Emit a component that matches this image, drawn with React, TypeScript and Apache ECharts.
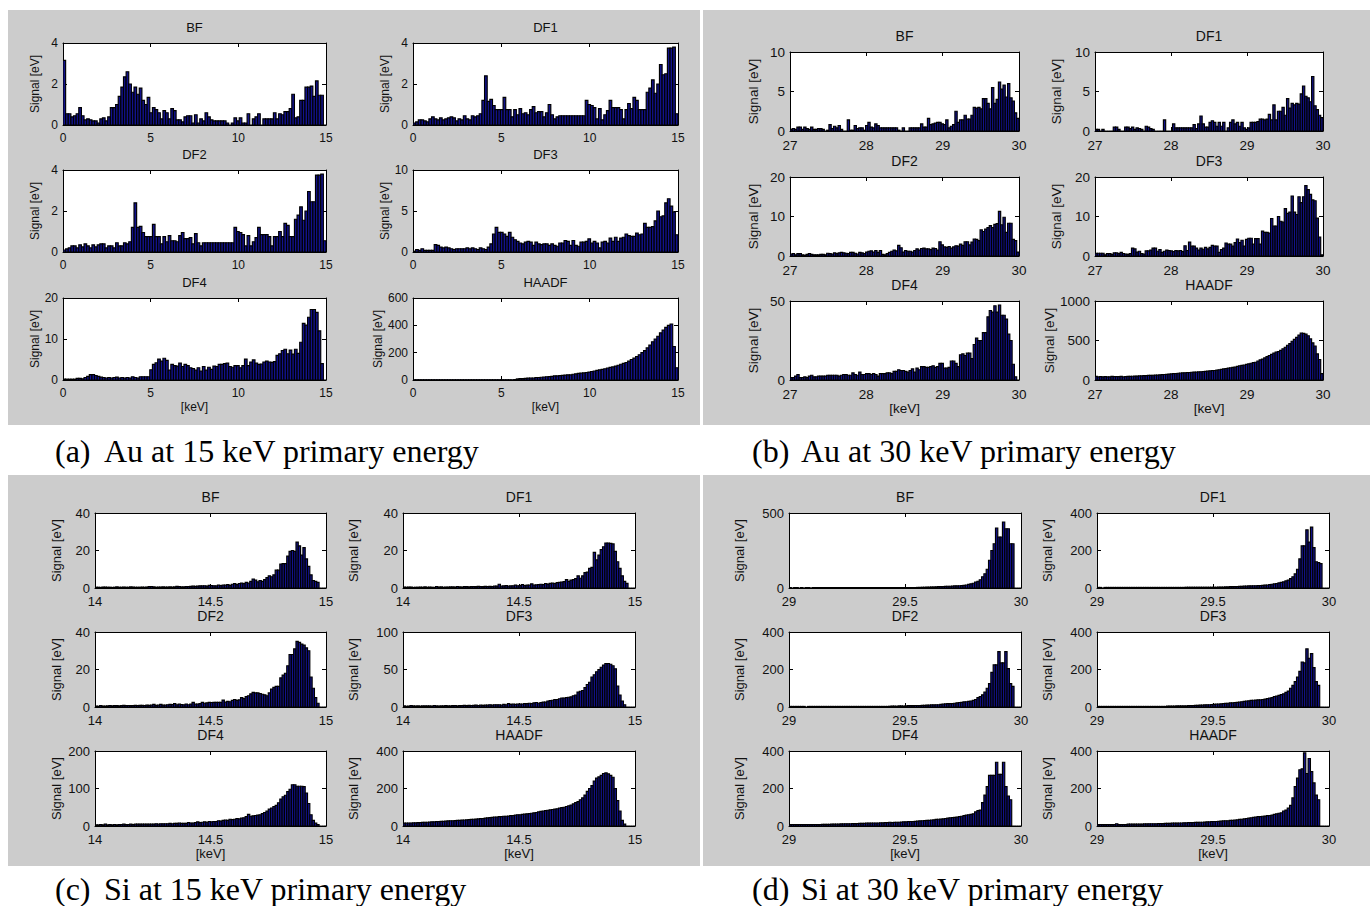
import React, { useEffect, useRef } from "react";
import * as echarts from "echarts";

const FONT = '"Liberation Sans", Arial, Helvetica, sans-serif';
const SERIF = '"Liberation Serif", "Times New Roman", serif';
const BAR_FILL = "#12128c";
const TEXT = "#111111";

const DETECTORS = ["BF", "DF1", "DF2", "DF3", "DF4", "HAADF"];

// ---------- (a) Au at 15 keV: 100 bins over 0–15 keV ----------
const au15BF = [
  3.15, 0.55, 0.55, 0.4, 0.45, 0.55, 0.85, 0.45, 0.25, 0.3,
  0.25, 0.2, 0.2, 0.1, 0.3, 0.35, 0.2, 0.4, 0.85, 0.85,
  1.0, 1.4, 1.85, 2.35, 2.6, 2.0, 1.6, 1.85, 1.5, 1.8,
  1.2, 1.0, 1.35, 0.6, 0.85, 0.75, 0.6, 0.3, 0.7, 0.6,
  0.3, 0.8, 0.7, 0.25, 0.25, 0.15, 0.4, 0.45, 0.45, 0.1,
  0.5, 0.1, 0.3, 0.2, 0.6, 0.4, 0.25, 0.2, 0.2, 0.2,
  0.2, 0.2, 0.1, 0.0, 0.1, 0.35, 0.2, 0.35, 0.1, 0.1,
  0.55, 0.0, 0.3, 0.4, 0.55, 0.0, 0.3, 0.3, 0.3, 0.3,
  0.6, 0.3, 0.55, 0.5, 0.65, 0.65, 0.8, 1.5, 0.35, 0.4,
  1.2, 1.2, 1.85, 1.85, 1.9, 1.4, 2.15, 1.45, 1.45, 0,
];
const au15DF1 = [
  0.1, 0.15, 0.25, 0.25, 0.2, 0.15, 0.3, 0.4, 0.3, 0.25,
  0.35, 0.25, 0.3, 0.35, 0.4, 0.35, 0.2, 0.3, 0.25, 0.45,
  0.3, 0.25, 0.45, 0.4, 0.45, 0.55, 1.2, 2.4, 1.15, 1.25,
  0.95, 0.75, 0.75, 0.75, 1.35, 0.75, 0.75, 0.4, 0.75, 0.5,
  0.8, 0.55, 0.6, 0.5, 0.75, 0.9, 0.6, 0.65, 0.65, 0.4,
  0.6, 1.0, 0.5, 0.3, 0.4, 0.45, 0.45, 0.45, 0.45, 0.45,
  0.45, 0.45, 0.45, 0.45, 0.45, 1.2, 1.0, 0.95, 0.85, 0.3,
  0.8, 0.25, 0.5, 0.7, 1.2, 0.85, 0.85, 0.85, 0.75, 0.3,
  0.75, 1.05, 0.8, 1.35, 1.2, 0.75, 0.75, 0.75, 1.6, 1.8,
  2.2, 1.55, 2.0, 2.95, 2.45, 2.5, 3.75, 3.75, 3.8, 0.55,
];
const au15DF2 = [
  0.1, 0.15, 0.2, 0.3, 0.3, 0.2, 0.35, 0.25, 0.4, 0.3,
  0.2, 0.35, 0.25, 0.35, 0.4, 0.4, 0.2, 0.3, 0.3, 0.2,
  0.45, 0.3, 0.3, 0.45, 0.4, 0.5, 1.2, 2.4, 1.2, 1.25,
  0.95, 0.75, 0.75, 0.75, 1.35, 0.75, 0.75, 0.4, 0.75, 0.5,
  0.8, 0.55, 0.55, 0.5, 0.8, 0.95, 0.65, 0.65, 0.7, 0.4,
  0.9, 0.45, 0.3, 0.45, 0.45, 0.45, 0.45, 0.45, 0.45, 0.45,
  0.45, 0.45, 0.45, 0.45, 0.45, 1.2, 1.0, 0.95, 0.85, 0.3,
  0.8, 0.3, 0.5, 0.7, 1.2, 0.85, 0.85, 0.85, 0.75, 0.3,
  0.75, 0.75, 1.0, 0.75, 1.4, 1.3, 0.75, 0.75, 1.6, 1.8,
  2.2, 1.55, 2.0, 2.95, 2.45, 2.45, 3.75, 3.75, 3.8, 0.55,
];
const au15DF3 = [
  0.1, 0.3, 0.2, 0.4, 0.2, 0.2, 0.2, 0.2, 0.9, 0.8,
  0.6, 0.5, 0.6, 0.5, 0.4, 0.3, 0.4, 0.4, 0.4, 0.4,
  0.5, 0.4, 0.5, 0.4, 0.3, 0.5, 0.4, 0.3, 0.6, 1.0,
  2.2, 3.0, 2.4, 2.4, 2.2, 1.9, 2.4, 1.8, 1.5, 1.3,
  1.1, 1.0, 1.2, 1.3, 1.2, 0.8, 1.2, 1.0, 0.9, 1.0,
  1.0, 0.8, 1.0, 0.8, 0.7, 1.1, 1.1, 1.4, 1.3, 0.8,
  1.4, 0.8, 0.7, 1.2, 1.2, 1.3, 1.6, 1.1, 1.3, 1.1,
  0.5, 1.2, 1.3, 1.1, 1.7, 1.3, 1.8, 1.3, 1.7, 1.8,
  2.2, 2.0, 1.9, 1.9, 2.3, 2.1, 2.2, 3.5, 3.0, 3.0,
  3.1, 3.8, 5.0, 4.3, 4.4, 6.0, 6.5, 5.6, 4.9, 2.1,
];
const au15DF4 = [
  0.2, 0.2, 0.2, 0.2, 0.2, 0.4, 0.4, 0.3, 0.6, 0.9,
  1.3, 1.3, 1.1, 0.9, 0.7, 0.6, 0.5, 0.6, 0.5, 0.6,
  0.7, 0.5, 0.6, 0.5, 0.6, 0.5, 0.8, 0.6, 0.5, 0.8,
  0.8, 0.8, 0.8, 2.5, 3.8, 4.2, 5.1, 4.6, 5.3, 4.8,
  2.4, 3.8, 3.5, 3.4, 4.1, 3.3, 3.8, 3.5, 3.0, 2.8,
  2.4, 3.0, 2.2, 3.3, 2.4, 3.1, 2.6, 3.4, 3.3, 3.8,
  3.8, 4.0, 4.1, 3.3, 3.1, 3.5, 3.5, 3.0, 3.5, 5.1,
  3.5, 4.4, 4.9, 4.1, 3.8, 3.9, 4.4, 4.6, 4.4, 4.3,
  4.5, 6.0, 6.4, 7.2, 7.5, 6.4, 7.3, 6.3, 7.5, 6.5,
  9.2, 13.8, 13.4, 15.3, 17.2, 17.2, 16.5, 12.0, 4.0, 0,
];
const au15HAADF = [
  2, 2, 2, 2, 2, 2, 2, 2, 2, 2,
  2, 2, 2, 2, 2, 2, 2, 2, 2, 2,
  2, 2, 2, 2, 2, 2, 2, 2, 2, 2,
  2, 2, 2, 2, 2, 2, 2, 2, 3, 8,
  10, 10, 12, 14, 15, 15, 17, 18, 20, 22,
  24, 25, 27, 30, 30, 32, 34, 36, 38, 38,
  42, 45, 48, 50, 52, 55, 58, 62, 66, 70,
  74, 78, 82, 88, 92, 96, 102, 108, 115, 122,
  128, 138, 150, 160, 172, 185, 200, 215, 235, 255,
  280, 300, 320, 345, 365, 385, 400, 410, 245, 90,
];

// ---------- (b) Au at 30 keV: 100 bins over 27–30 keV ----------
const au30BF = [
  0.2, 0.3, 0.2, 0.5, 0.5, 0.2, 0.5, 0.3, 0.2, 0.5,
  0.2, 0.2, 0.3, 0.3, 0.2, 0, 0.1, 0.8, 0.3, 0.6,
  0.4, 0.7, 0.2, 0, 0, 1.4, 0.1, 0.1, 0.7, 0.3,
  0.4, 0.4, 0.1, 0.7, 1.1, 0.5, 0.4, 0.9, 0.7, 0.4,
  0.4, 0.4, 0.4, 0.4, 0.4, 0.4, 0.4, 0.1, 0, 0.4,
  0, 0, 0.4, 0.4, 0.4, 0.4, 0.4, 0.9, 0.5, 0.5,
  1.6, 0.8, 0.9, 1.0, 1.1, 1.1, 0.9, 0.8, 1.4, 0.4,
  0.6, 0.8, 2.5, 1.1, 1.4, 1.4, 2.0, 1.5, 1.5, 2.0,
  3.0, 2.9, 3.0, 2.8, 4.1, 4.1, 3.5, 2.8, 5.5, 3.5,
  4.0, 6.2, 5.3, 5.8, 4.3, 6.0, 4.2, 3.8, 2.3, 1.6,
];
const au30DF1 = [
  0.2, 0.2, 0, 0.2, 0, 0, 0, 0, 0.5, 0.5,
  0.2, 0, 0, 0.5, 0.5, 0.3, 0.5, 0.2, 0.4, 0.3,
  0.2, 0, 0.6, 0.5, 0.3, 0.2, 0, 0, 0, 0,
  1.4, 0, 0, 0, 0.9, 0.4, 0.4, 0.4, 0.4, 0.4,
  0.4, 0.4, 0.4, 0.8, 0.3, 0.9, 1.9, 0.9, 0.5, 0.5,
  1.1, 1.3, 1.1, 0.6, 1.1, 0.6, 1.1, 0, 0.4, 1.1,
  1.4, 0.9, 1.1, 0.6, 1.1, 0.4, 0.2, 0.4, 1.1, 1.1,
  1.1, 1.2, 1.5, 1.5, 1.4, 1.5, 2.1, 1.4, 3.3, 1.4,
  2.5, 2.5, 3.0, 2.0, 4.1, 2.9, 3.5, 3.3, 3.5, 3.4,
  4.7, 5.7, 4.4, 4.2, 3.7, 6.9, 3.2, 2.7, 2.0, 1.7,
];
const au30DF2 = [
  0.5, 0.6, 0.3, 0.6, 0.6, 0.3, 0.2, 0.4, 0.6, 0.4,
  0.3, 0.3, 0.3, 0.4, 0.4, 0.3, 0.7, 0.6, 0.5, 0.8,
  0.6, 0.8, 0.9, 0.8, 0.7, 0.6, 0.9, 0.9, 0.7, 0.5,
  0.9, 0.8, 0.6, 1.0, 1.2, 1.3, 1.0, 1.4, 0.9, 1.4,
  0.4, 0.3, 0.6, 0.9, 1.2, 1.5, 1.3, 2.7, 2.1, 1.0,
  1.4, 1.2, 1.2, 1.0, 1.4, 1.8, 1.5, 1.9, 2.0, 1.8,
  1.8, 1.6, 2.0, 1.9, 1.5, 3.6, 2.8, 2.3, 2.2, 2.4,
  2.0, 2.3, 2.6, 2.5, 3.0, 2.7, 3.6, 3.6, 2.8, 3.5,
  4.3, 4.2, 3.9, 6.6, 6.2, 6.8, 7.2, 7.7, 7.2, 8.0,
  8.2, 11.3, 7.9, 9.8, 6.0, 8.3, 8.3, 4.2, 3.9, 1.0,
];
const au30DF3 = [
  0.7, 0.7, 0.7, 0.7, 0.3, 0.6, 0.6, 0.4, 0.8, 0.8,
  0.6, 0.9, 0.6, 0.5, 0.4, 0.6, 2.0, 1.8, 1.0, 1.2,
  0.6, 0.5, 1.3, 1.3, 1.5, 2.0, 2.0, 1.2, 1.6, 0.9,
  1.2, 1.5, 1.4, 1.3, 1.1, 1.4, 1.3, 1.4, 1.1, 2.6,
  1.4, 3.5, 2.5, 2.5, 2.0, 1.5, 2.0, 1.7, 2.2, 1.8,
  2.2, 2.7, 2.5, 2.5, 0.9, 1.6, 2.0, 3.3, 3.0, 3.0,
  2.5, 3.4, 4.3, 3.4, 4.0, 2.5, 4.2, 4.5, 4.5, 3.0,
  4.4, 4.4, 3.0, 6.3, 6.0, 6.0, 5.8, 9.5, 7.6, 7.6,
  10.0, 8.8, 8.6, 12.0, 10.8, 11.1, 15.2, 11.1, 10.5, 15.0,
  13.5, 15.0, 17.8, 16.8, 15.6, 14.2, 14.0, 9.6, 4.8, 0.3,
];
const au30DF4 = [
  1.5, 1.5, 2.5, 3.5, 1.5, 1.5, 2.0, 1.5, 2.5, 3.0,
  2.0, 2.0, 2.5, 2.5, 2.5, 2.5, 3.0, 3.0, 3.0, 3.0,
  3.0, 2.5, 3.0, 3.5, 3.5, 3.0, 3.0, 4.5, 3.5, 3.0,
  5.0, 3.5, 3.5, 4.0, 4.0, 3.5, 4.0, 3.5, 2.5, 4.0,
  4.0, 4.0, 4.5, 4.5, 4.0, 5.5, 5.5, 6.5, 6.0, 6.0,
  5.5, 5.0, 6.0, 7.0, 5.0, 7.5, 6.5, 8.5, 8.5, 8.0,
  8.0, 8.5, 9.0, 8.0, 8.5, 10.5, 10.5, 7.5, 7.5, 8.0,
  12.0, 12.0, 10.5, 8.5, 16.0, 16.5, 15.5, 17.0, 17.0, 13.5,
  22.5, 26.5, 25.0, 25.0, 30.0, 30.0, 40.0, 44.0, 43.0, 47.0,
  43.0, 47.5, 41.0, 41.0, 38.5, 29.0, 25.0, 10.0, 2.0, 0,
];
const au30HAADF = [
  45, 40, 42, 40, 42, 40, 40, 45, 42, 42,
  42, 45, 40, 42, 45, 45, 48, 50, 50, 52,
  52, 55, 55, 58, 58, 60, 62, 62, 65, 68,
  70, 72, 75, 78, 80, 82, 85, 88, 90, 92,
  95, 95, 98, 100, 100, 102, 105, 108, 110, 112,
  115, 118, 120, 125, 130, 135, 140, 145, 150, 155,
  160, 165, 172, 180, 185, 190, 198, 205, 212, 220,
  225, 240, 255, 265, 280, 295, 310, 325, 340, 355,
  360, 375, 395, 415, 440, 460, 490, 515, 540, 570,
  595, 590, 580, 560, 520, 470, 430, 330, 260, 80,
];

// ---------- (c) Si at 15 keV: 100 bins over 14–15 keV ----------
const si15BF = [
  0.4, 0.4, 0.3, 0.5, 0.5, 0.4, 0.4, 0.3, 0.4, 0.6,
  0.4, 0.4, 0.5, 0.4, 0.4, 0.6, 0.5, 0.4, 0.4, 0.4,
  0.5, 0.4, 0.5, 0.8, 0.8, 0.6, 0.4, 0.5, 0.5, 0.6,
  0.5, 0.5, 0.6, 0.5, 0.6, 0.9, 0.8, 0.6, 0.6, 0.8,
  0.8, 0.9, 1.0, 0.9, 1.0, 1.1, 1.1, 1.2, 1.0, 1.4,
  1.3, 1.2, 1.1, 1.5, 1.3, 1.6, 1.5, 1.8, 1.4, 2.0,
  2.3, 1.8, 2.4, 2.6, 2.3, 3.0, 2.6, 3.5, 4.8, 4.2,
  3.3, 4.0, 3.5, 4.5, 5.5, 6.5, 6.0, 7.0, 9.5, 9.5,
  12.8, 13.0, 13.0, 17.0, 19.5, 20.0, 19.5, 24.5, 22.5, 17.5,
  21.5, 15.5, 11.5, 7.0, 4.0, 3.5, 3.0, 0, 0, 0,
];
const si15DF1 = [
  0.5, 0.4, 0.5, 0.5, 0.3, 0.4, 0.4, 0.5, 0.4, 0.6,
  0.4, 0.5, 0.4, 0.3, 0.8, 0.5, 0.6, 0.4, 0.5, 0.5,
  0.6, 0.6, 0.5, 0.8, 0.6, 0.5, 0.7, 0.7, 0.6, 0.7,
  0.8, 0.7, 0.9, 0.8, 0.7, 0.9, 0.8, 0.9, 0.8, 1.0,
  1.0, 2.0, 1.0, 1.1, 1.3, 1.0, 1.1, 1.2, 1.5, 1.2,
  1.3, 1.8, 1.3, 1.5, 1.5, 2.2, 1.6, 1.7, 1.8, 2.0,
  1.8, 2.4, 2.1, 2.5, 2.6, 2.4, 2.9, 3.0, 3.2, 3.4,
  4.5, 3.5, 4.2, 4.5, 5.0, 6.5, 5.2, 6.5, 8.2, 8.5,
  10.5, 11.0, 19.0, 15.0, 17.5, 20.5, 22.0, 24.0, 24.0, 23.8,
  23.5, 19.5, 14.0, 10.5, 6.5, 3.5, 2.5, 0, 0, 0,
];
const si15DF2 = [
  0.5, 0.4, 0.8, 0.5, 0.5, 0.6, 0.8, 0.6, 0.7, 0.7,
  0.6, 0.7, 0.9, 0.8, 0.8, 0.7, 0.8, 0.9, 0.8, 0.9,
  0.9, 0.8, 1.0, 0.9, 1.0, 1.4, 0.9, 1.0, 1.4, 1.0,
  1.0, 1.2, 1.4, 1.3, 1.8, 1.2, 1.5, 1.3, 1.2, 1.6,
  1.2, 1.5, 2.5, 1.5, 1.6, 1.8, 2.5, 2.0, 2.2, 2.5,
  2.4, 2.5, 2.5, 2.5, 2.5, 3.7, 2.6, 3.0, 2.8, 3.5,
  4.0, 3.5, 3.8, 5.0, 4.5, 5.5, 6.0, 7.0, 7.8, 7.5,
  7.5, 7.2, 6.8, 6.5, 6.0, 7.5, 9.5, 10.5, 11.0, 11.0,
  15.5, 17.0, 18.0, 22.0, 28.0, 28.0, 31.0, 35.0, 34.5, 33.5,
  33.0, 31.5, 30.0, 16.0, 10.0, 5.0, 2.0, 0, 0, 0,
];
const si15DF3 = [
  1.5, 1.0, 1.2, 2.0, 1.5, 1.3, 1.5, 1.2, 1.5, 1.5,
  1.5, 1.5, 1.2, 2.0, 1.5, 1.3, 1.5, 1.5, 1.8, 1.5,
  1.5, 1.8, 2.0, 1.5, 1.8, 2.0, 2.2, 1.8, 2.2, 2.0,
  2.2, 2.5, 2.0, 2.5, 2.2, 2.5, 2.5, 3.0, 2.5, 3.0,
  3.0, 3.0, 2.5, 3.5, 3.0, 4.5, 3.5, 4.0, 3.5, 4.0,
  4.0, 4.0, 4.5, 4.5, 5.0, 4.5, 5.5, 6.0, 5.0, 6.0,
  6.5, 6.5, 8.0, 8.5, 9.0, 10.0, 10.0, 11.0, 12.0, 12.0,
  12.5, 13.0, 13.5, 15.0, 16.0, 20.0, 21.0, 22.0, 26.0, 30.0,
  33.0, 40.0, 43.0, 47.0, 50.0, 53.0, 56.0, 58.0, 58.0, 57.0,
  55.0, 51.0, 28.0, 16.0, 8.0, 3.0, 0, 0, 0, 0,
];
const si15DF4 = [
  3, 3, 4, 3, 5, 3, 4, 3, 4, 3,
  4, 4, 5, 4, 4, 5, 4, 5, 5, 5,
  5, 5, 5, 5, 5, 5, 6, 5, 6, 6,
  6, 6, 7, 6, 7, 7, 8, 7, 7, 7,
  9, 8, 8, 9, 11, 9, 10, 11, 10, 12,
  11, 12, 12, 14, 13, 15, 16, 15, 18, 17,
  18, 20, 19, 21, 22, 25, 31, 26, 27, 28,
  29, 30, 33, 36, 40, 45, 48, 52, 55, 62,
  72, 78, 82, 92, 98, 110, 110, 106, 106, 106,
  105, 88, 60, 30, 15, 8, 4, 0, 0, 0,
];
const si15HAADF = [
  15, 15, 16, 16, 17, 17, 18, 18, 19, 20,
  20, 21, 22, 22, 23, 24, 25, 25, 26, 27,
  28, 28, 29, 30, 30, 31, 32, 33, 34, 35,
  36, 37, 38, 39, 40, 42, 43, 45, 46, 48,
  48, 50, 50, 52, 52, 53, 55, 56, 58, 60,
  60, 62, 63, 65, 66, 68, 70, 72, 75, 78,
  80, 82, 84, 86, 88, 90, 92, 95, 98, 100,
  104, 108, 112, 118, 125, 130, 140, 150, 165, 185,
  200, 215, 240, 255, 262, 270, 280, 283, 278, 270,
  260, 200, 135, 80, 30, 10, 0, 0, 0, 0,
];

// ---------- (d) Si at 30 keV: 100 bins over 29–30 keV ----------
const si30BF = [
  3, 0, 3, 3, 0, 3, 0, 3, 3, 0,
  3, 3, 3, 3, 3, 3, 3, 3, 3, 3,
  3, 3, 3, 3, 3, 3, 3, 3, 3, 3,
  3, 3, 3, 3, 3, 3, 3, 3, 3, 3,
  3, 3, 3, 3, 3, 3, 3, 3, 3, 3,
  3, 3, 3, 3, 3, 4, 4, 5, 5, 6,
  6, 7, 7, 8, 9, 10, 10, 11, 12, 12,
  13, 14, 14, 15, 16, 18, 20, 24, 28, 32,
  40, 45, 55, 75, 95, 125, 185, 250, 295, 400,
  340, 340, 440, 395, 395, 295, 295, 0, 0, 0,
];
const si30DF1 = [
  3, 3, 0, 3, 3, 3, 3, 3, 3, 3,
  3, 3, 3, 3, 3, 3, 3, 3, 3, 3,
  3, 3, 3, 3, 3, 3, 3, 3, 3, 3,
  3, 3, 3, 3, 3, 3, 3, 3, 4, 4,
  4, 4, 4, 4, 4, 4, 4, 4, 4, 4,
  4, 4, 5, 5, 5, 6, 6, 7, 7, 8,
  8, 9, 9, 10, 10, 11, 11, 12, 12, 13,
  13, 14, 15, 16, 18, 20, 22, 24, 27, 30,
  33, 38, 42, 50, 60, 75, 100, 155, 225, 225,
  310, 245, 325, 215, 140, 135, 130, 0, 0, 0,
];
const si30DF2 = [
  3, 3, 3, 3, 3, 3, 3, 0, 3, 3,
  3, 3, 3, 3, 3, 3, 3, 3, 3, 3,
  3, 3, 3, 3, 3, 3, 3, 3, 3, 3,
  3, 3, 3, 3, 3, 3, 3, 3, 3, 3,
  3, 3, 3, 4, 5, 5, 4, 6, 6, 5,
  6, 7, 7, 7, 8, 8, 8, 9, 9, 10,
  10, 11, 11, 12, 12, 14, 16, 17, 18, 18,
  18, 20, 22, 24, 25, 27, 28, 30, 32, 35,
  40, 50, 55, 65, 80, 100, 125, 185, 225, 225,
  295, 235, 235, 295, 205, 125, 110, 0, 0, 0,
];
const si30DF3 = [
  3, 3, 3, 3, 3, 3, 3, 3, 3, 3,
  3, 3, 3, 3, 3, 3, 3, 3, 3, 3,
  3, 3, 3, 3, 3, 3, 3, 3, 3, 3,
  5, 5, 5, 5, 6, 6, 6, 6, 6, 7,
  8, 8, 9, 9, 10, 10, 11, 12, 12, 13,
  14, 15, 16, 17, 18, 19, 20, 22, 22, 24,
  25, 26, 28, 30, 32, 33, 35, 36, 37, 38,
  38, 40, 42, 45, 48, 50, 55, 58, 62, 66,
  70, 78, 85, 100, 115, 135, 160, 190, 240, 235,
  310, 260, 285, 210, 135, 115, 0, 0, 0, 0,
];
const si30DF4 = [
  8, 8, 8, 8, 8, 8, 8, 8, 8, 8,
  8, 8, 8, 8, 9, 9, 9, 9, 10, 10,
  10, 10, 11, 11, 12, 12, 12, 13, 13, 13,
  14, 14, 14, 15, 15, 15, 16, 16, 16, 17,
  17, 18, 18, 20, 18, 19, 20, 20, 21, 22,
  22, 23, 24, 24, 25, 26, 27, 28, 29, 30,
  30, 32, 33, 35, 36, 37, 38, 40, 42, 44,
  45, 46, 48, 50, 52, 55, 58, 60, 62, 65,
  75, 82, 85, 125, 165, 210, 270, 270, 270, 340,
  275, 275, 340, 210, 160, 140, 0, 0, 0, 0,
];
const si30HAADF = [
  8, 8, 8, 8, 8, 8, 8, 8, 12, 8,
  8, 8, 8, 10, 10, 10, 10, 10, 10, 10,
  11, 11, 12, 12, 12, 12, 13, 13, 13, 14,
  14, 14, 15, 15, 15, 16, 16, 17, 17, 18,
  18, 18, 19, 19, 20, 20, 21, 22, 22, 23,
  24, 24, 25, 26, 27, 28, 28, 30, 30, 32,
  33, 35, 36, 38, 40, 42, 44, 46, 48, 50,
  50, 52, 53, 55, 56, 58, 62, 65, 68, 70,
  80, 85, 95, 110, 150, 210, 255, 300, 305, 390,
  280, 360, 290, 230, 165, 140, 0, 0, 0, 0,
];

// y-axis limits and tick steps per detector (BF, DF1, DF2, DF3, DF4, HAADF)
const au15YMax = [4, 4, 4, 10, 20, 600];
const au15YStep = [2, 2, 2, 5, 10, 200];
const au30YMax = [10, 10, 20, 20, 50, 1000];
const au30YStep = [5, 5, 10, 10, 50, 500];
const si15YMax = [40, 40, 40, 100, 200, 400];
const si15YStep = [20, 20, 20, 50, 100, 200];
const si30YMax = [500, 400, 400, 400, 400, 400];
const si30YStep = [500, 200, 200, 200, 200, 200];

// x-axis ranges [min, max, tick step] in keV
const au15XRange = [0, 15, 5];
const au30XRange = [27, 30, 1];
const si15XRange = [14, 15, 0.5];
const si30XRange = [29, 30, 0.5];

const captionTags = ["(a)", "(b)", "(c)", "(d)"];
const captionTexts = [
  "Au at 15 keV primary energy",
  "Au at 30 keV primary energy",
  "Si at 15 keV primary energy",
  "Si at 30 keV primary energy",
];

// layout (pixels)
const PANELS = [
  {
    range: au15XRange, data: [au15BF, au15DF1, au15DF2, au15DF3, au15DF4, au15HAADF],
    yMax: au15YMax, yStep: au15YStep, fs: 12, ts: 13,
    bg: [8, 10, 692, 415], cols: [[63, 263], [413, 265]], rows: [43, 170, 298], h: 82,
    nameGap: [22, 22], cap: [55, 104, 451],
  },
  {
    range: au30XRange, data: [au30BF, au30DF1, au30DF2, au30DF3, au30DF4, au30HAADF],
    yMax: au30YMax, yStep: au30YStep, fs: 13.5, ts: 14,
    bg: [703, 10, 667, 415], cols: [[790, 229], [1095, 228]], rows: [52, 177, 301], h: 79,
    nameGap: [30, 32], cap: [752, 801, 451],
  },
  {
    range: si15XRange, data: [si15BF, si15DF1, si15DF2, si15DF3, si15DF4, si15HAADF],
    yMax: si15YMax, yStep: si15YStep, fs: 13, ts: 14,
    bg: [8, 475, 692, 391], cols: [[95, 231], [403, 232]], rows: [513, 632, 751], h: 75,
    nameGap: [32, 43], cap: [55, 104, 889],
  },
  {
    range: si30XRange, data: [si30BF, si30DF1, si30DF2, si30DF3, si30DF4, si30HAADF],
    yMax: si30YMax, yStep: si30YStep, fs: 13, ts: 14,
    bg: [703, 475, 667, 391], cols: [[789, 232], [1097, 232]], rows: [513, 632, 751], h: 75,
    nameGap: [43, 43], cap: [752, 801, 889],
  },
];

function toBins(values: number[], xMin: number, xMax: number) {
  const w = (xMax - xMin) / values.length;
  return values.map((v, i) => [xMin + i * w, xMin + (i + 1) * w, v]);
}

const renderBar = (_params: any, api: any) => {
  const a = api.coord([api.value(0), 0]);
  const b = api.coord([api.value(1), api.value(2)]);
  return {
    type: "rect",
    shape: { x: a[0], y: b[1], width: b[0] - a[0], height: a[1] - b[1] },
    style: { fill: BAR_FILL, stroke: "#000", lineWidth: 1.15 },
  };
};

const plain = (v: number) => String(v);

function buildOption() {
  const grid: any[] = [];
  const xAxis: any[] = [];
  const yAxis: any[] = [];
  const series: any[] = [];
  const elements: any[] = [];

  PANELS.forEach((p, pi) => {
    const labelStyle = { fontSize: p.fs, color: TEXT, fontFamily: FONT };
    elements.push({
      type: "rect", z: -5, silent: true,
      shape: { x: p.bg[0], y: p.bg[1], width: p.bg[2], height: p.bg[3] },
      style: { fill: "#cccccc" },
    });
    elements.push({
      type: "text", silent: true, x: p.cap[0], y: p.cap[2],
      style: { text: captionTags[pi], font: `32px ${SERIF}`, fill: "#000", textAlign: "left", textVerticalAlign: "middle" },
    });
    elements.push({
      type: "text", silent: true, x: p.cap[1], y: p.cap[2],
      style: { text: captionTexts[pi], font: `32px ${SERIF}`, fill: "#000", textAlign: "left", textVerticalAlign: "middle" },
    });
    const [xMin, xMax, xStep] = p.range;
    DETECTORS.forEach((name, k) => {
      const r = Math.floor(k / 2);
      const c = k % 2;
      const gi = grid.length;
      const [left, width] = p.cols[c];
      const top = p.rows[r];
      grid.push({ left, top, width, height: p.h, show: true, backgroundColor: "#ffffff", borderWidth: 0 });
      const xBase = {
        type: "value", gridIndex: gi, min: xMin, max: xMax, interval: xStep,
        splitLine: { show: false },
        axisLine: { show: true, onZero: false, lineStyle: { color: "#000", width: 1 } },
        axisTick: { show: true, inside: true, length: 4, lineStyle: { color: "#000", width: 1 } },
      };
      xAxis.push({
        ...xBase, position: "bottom",
        axisLabel: { ...labelStyle, margin: 7, formatter: plain },
        name: r === 2 ? "[keV]" : "", nameLocation: "middle", nameGap: 21,
        nameTextStyle: labelStyle,
      });
      xAxis.push({ ...xBase, position: "top", axisLabel: { show: false } });
      const yBase = {
        type: "value", gridIndex: gi, min: 0, max: p.yMax[k], interval: p.yStep[k],
        splitLine: { show: false },
        axisLine: { show: true, onZero: false, lineStyle: { color: "#000", width: 1 } },
        axisTick: { show: true, inside: true, length: 4, lineStyle: { color: "#000", width: 1 } },
      };
      yAxis.push({
        ...yBase, position: "left",
        axisLabel: { ...labelStyle, margin: 5, formatter: plain },
        name: "Signal [eV]", nameLocation: "middle", nameGap: p.nameGap[c],
        nameTextStyle: labelStyle,
      });
      yAxis.push({ ...yBase, position: "right", axisLabel: { show: false } });
      series.push({
        type: "custom", name: `${captionTags[pi]} ${name}`,
        coordinateSystem: "cartesian2d", xAxisIndex: 2 * gi, yAxisIndex: 2 * gi,
        renderItem: renderBar, clip: true, silent: true,
        encode: { x: [0, 1], y: 2 },
        data: toBins(p.data[k], xMin, xMax),
      });
      elements.push({
        type: "text", silent: true, x: left + width / 2, y: top - 16,
        style: { text: name, font: `${p.ts}px ${FONT}`, fill: TEXT, textAlign: "center", textVerticalAlign: "middle" },
      });
    });
  });

  return {
    animation: false,
    backgroundColor: "#ffffff",
    grid, xAxis, yAxis, series,
    graphic: { elements },
  };
}

export default function App() {
  const ref = useRef<HTMLDivElement>(null);
  useEffect(() => {
    if (!ref.current) return;
    const chart = echarts.init(ref.current, null, { renderer: "svg" });
    chart.setOption(buildOption() as any);
    return () => chart.dispose();
  }, []);
  return (
    <div
      ref={ref}
      style={{ position: "fixed", left: 0, top: 0, width: 1370, height: 906, background: "#fff" }}
    />
  );
}
